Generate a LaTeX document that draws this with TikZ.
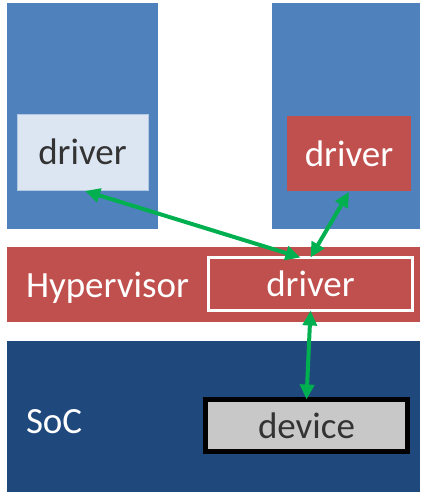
\documentclass[tikz,border=0pt]{standalone}
\usepackage{fontspec}
\setmainfont{Carlito}
\usetikzlibrary{arrows.meta}
\definecolor{vmblue}{HTML}{4F81BD}
\definecolor{paleblue}{HTML}{DCE6F2}
\definecolor{hypred}{HTML}{C0504D}
\definecolor{socblue}{HTML}{1F497D}
\definecolor{linkgreen}{HTML}{00B050}
\definecolor{devgray}{HTML}{C8C8C8}
\definecolor{inkgray}{HTML}{333333}
\begin{document}
\begin{tikzpicture}[x=1pt,y=-1pt,
  every node/.style={inner sep=0pt, outer sep=0pt, font=\fontsize{37}{44}\selectfont},
  block/.style={rectangle, draw=none},
  link/.style={linkgreen, line width=4pt,
    {Triangle[length=15pt,width=14pt]}-{Triangle[length=15pt,width=14pt]}}]
\useasboundingbox (0,0) rectangle (420,492);
% guest partitions
\node[block, fill=vmblue, minimum width=151pt, minimum height=226pt] (vmA) at (82.5,116) {};
\node[block, fill=vmblue, minimum width=148pt, minimum height=226pt] (vmB) at (346,116) {};
\node[block, fill=paleblue, draw=paleblue!70!vmblue, line width=0.8pt,
  minimum width=131pt, minimum height=76pt, text=inkgray] (drvA) at (82.5,152) {driver};
\node[block, fill=hypred, minimum width=124pt, minimum height=75pt, text=white] (drvB) at (349,153.5) {driver};
% hypervisor layer
\node[block, fill=hypred, minimum width=413pt, minimum height=75pt] (hyp) at (213.5,284.5) {};
\node[anchor=west, text=white] (hyplabel) at (26,288) {Hypervisor};
\node[block, fill=hypred, draw=white, line width=3pt,
  minimum width=204pt, minimum height=53pt, text=white] (drvH) at (310.5,284) {driver};
% SoC layer
\node[block, fill=socblue, minimum width=413pt, minimum height=151pt] (soc) at (213.5,416.5) {};
\node[anchor=west, text=white] (soclabel) at (26,422) {SoC};
\node[block, fill=devgray, draw=black, line width=4.5pt,
  minimum width=202pt, minimum height=52pt, text=inkgray] (dev) at (306.5,425.5) {device};
% connections
\draw[link] ([xshift=2.5pt,yshift=-1pt]drvA.south) -- ([xshift=-10pt]drvH.north);
\draw[link] ([yshift=-1pt]drvB.south) -- (drvH.north);
\draw[link] (drvH.south) -- (dev.north);
\end{tikzpicture}
\end{document}
